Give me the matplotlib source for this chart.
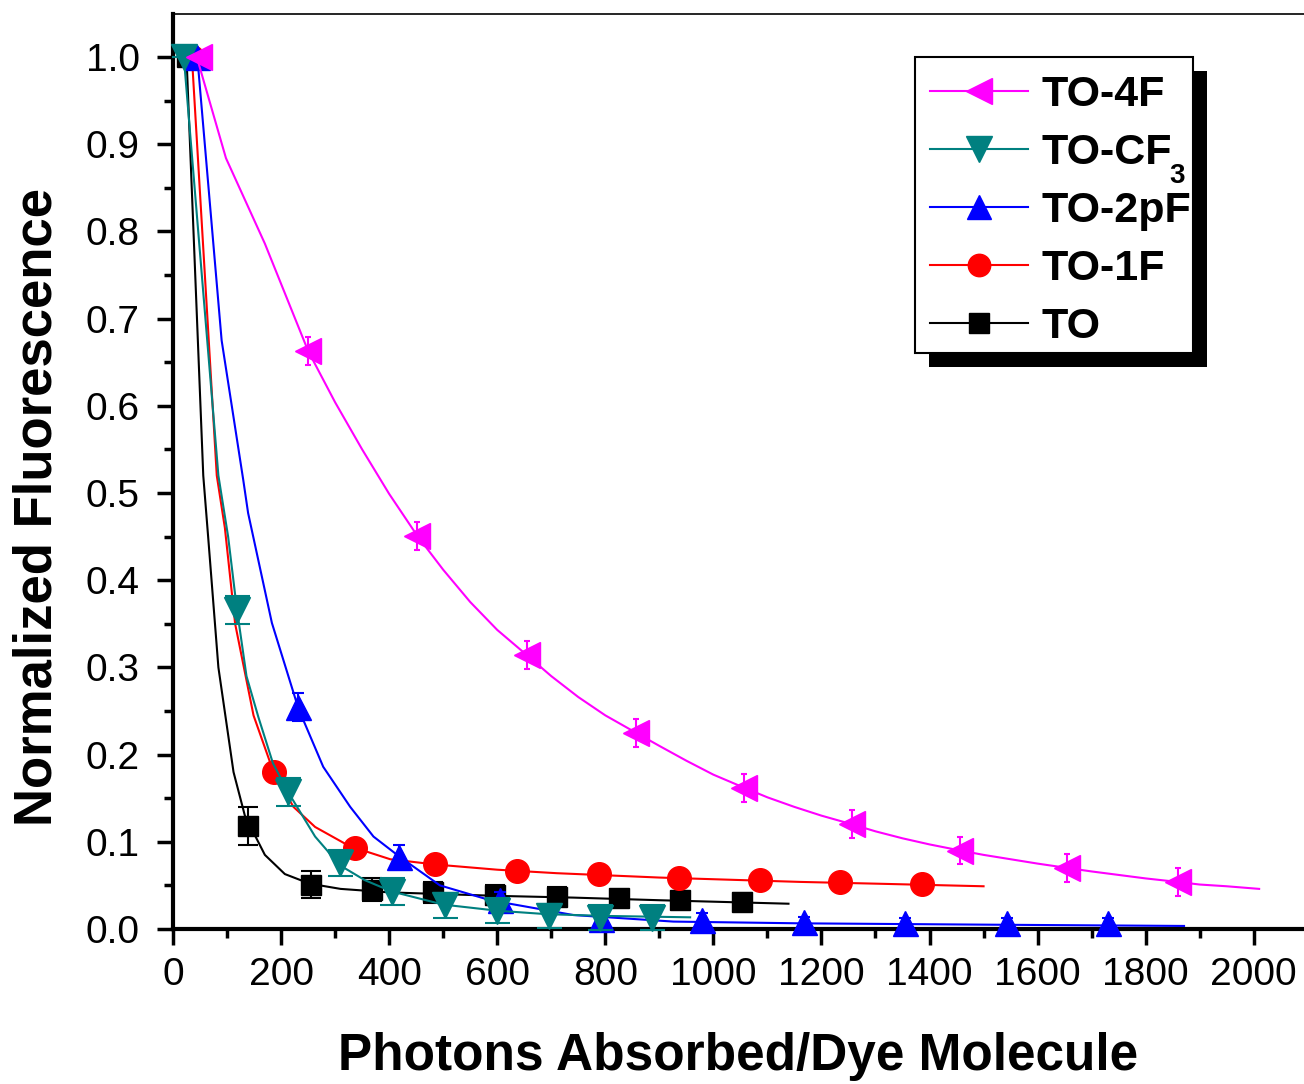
import matplotlib
matplotlib.use('Agg')
import matplotlib.pyplot as plt
from matplotlib.patches import Rectangle
from matplotlib.lines import Line2D
from matplotlib.ticker import MultipleLocator, FormatStrFormatter
from matplotlib.transforms import IdentityTransform

plt.rcParams['font.family'] = ['Liberation Sans', 'DejaVu Sans']

# ---------------- data ----------------
# TO (black squares)
to_x = [25, 139, 255, 369, 482, 596, 710, 825, 939, 1053]
to_y = [1.0, 0.118, 0.051, 0.045, 0.042, 0.039, 0.037, 0.035, 0.033, 0.031]
to_err = [0.0, 0.022, 0.016, 0.013, 0.012, 0.012, 0.011, 0.010, 0.010, 0.010]
to_fit_x = [25, 56, 65, 84, 112, 133, 170, 207, 253, 310, 400, 500, 600, 741, 900, 1139]
to_fit_y = [1.0, 0.52, 0.45, 0.30, 0.18, 0.13, 0.085, 0.063, 0.052, 0.046, 0.042, 0.040, 0.038, 0.036, 0.033, 0.029]

# TO-1F (red circles)
f1_x = [35, 186, 337, 485, 636, 788, 936, 1087, 1235, 1386]
f1_y = [1.0, 0.180, 0.093, 0.075, 0.067, 0.063, 0.059, 0.056, 0.054, 0.052]
f1_err = [0.0, 0.008, 0.006, 0.005, 0.005, 0.005, 0.005, 0.005, 0.005, 0.005]
f1_fit_x = [35, 81, 96, 115, 149, 186, 223, 263, 318, 337, 402, 485, 600, 710, 900, 1161, 1300, 1500]
f1_fit_y = [1.0, 0.52, 0.46, 0.35, 0.245, 0.18, 0.14, 0.117, 0.098, 0.093, 0.080, 0.074, 0.068, 0.064, 0.059, 0.054, 0.052, 0.049]

# TO-2pF (blue up triangles)
pf_x = [45, 232, 419, 605, 792, 979, 1167, 1355, 1543, 1730]
pf_y = [1.0, 0.255, 0.083, 0.033, 0.012, 0.010, 0.008, 0.007, 0.007, 0.007]
pf_err = [0.0, 0.016, 0.013, 0.010, 0.008, 0.008, 0.006, 0.006, 0.006, 0.006]
pf_fit_x = [45, 90, 130, 139, 183, 232, 278, 328, 371, 419, 494, 587, 741, 926, 1161, 1500, 1871]
pf_fit_y = [1.0, 0.675, 0.515, 0.477, 0.351, 0.253, 0.186, 0.140, 0.106, 0.083, 0.050, 0.033, 0.016, 0.0085, 0.0065, 0.005, 0.0035]

# TO-CF3 (teal down triangles)
cf_x = [20, 118, 213, 309, 405, 504, 599, 695, 791, 886]
cf_y = [1.0, 0.366, 0.157, 0.076, 0.043, 0.027, 0.021, 0.015, 0.013, 0.013]
cf_err = [0.0, 0.016, 0.016, 0.015, 0.015, 0.014, 0.014, 0.014, 0.014, 0.014]
cf_fit_x = [20, 84, 102, 118, 136, 158, 185, 213, 263, 309, 355, 405, 500, 600, 692, 800, 957]
cf_fit_y = [1.0, 0.52, 0.45, 0.368, 0.29, 0.243, 0.19, 0.157, 0.106, 0.073, 0.056, 0.043, 0.028, 0.021, 0.017, 0.015, 0.0134]

# TO-4F (magenta left triangles)
f4_x = [48, 250, 452, 655, 857, 1057, 1257, 1457, 1655, 1859]
f4_y = [1.0, 0.663, 0.451, 0.314, 0.225, 0.162, 0.120, 0.090, 0.070, 0.054]
f4_err = [0.0, 0.016, 0.016, 0.016, 0.016, 0.016, 0.016, 0.016, 0.016, 0.016]
f4_fit_x = [44, 98, 170, 250, 300, 350, 400, 452, 500, 550, 600, 655, 700, 750, 800, 857,
            900, 950, 1000, 1057, 1100, 1150, 1200, 1257, 1300, 1350, 1400, 1457, 1500,
            1550, 1600, 1655, 1700, 1750, 1800, 1859, 1900, 1950, 2010]
f4_fit_y = [1.0, 0.884, 0.786, 0.663, 0.604, 0.550, 0.499, 0.451, 0.412, 0.375, 0.343, 0.314,
            0.290, 0.266, 0.245, 0.225, 0.210, 0.193, 0.177, 0.162, 0.151, 0.140, 0.130,
            0.120, 0.112, 0.104, 0.097, 0.090, 0.085, 0.080, 0.075, 0.070, 0.066, 0.062,
            0.058, 0.054, 0.051, 0.049, 0.046]

labels = ['TO', 'TO-1F', 'TO-2pF', 'TO-CF', 'TO-4F']
cf_subscript = '3'
colors = ['black', '#ff0000', '#0000ff', '#008080', '#ff00ff']
markers = ['s', 'o', '^', 'v', '<']
msizes = [14.5, 17, 18, 19, 19]
capsizes = [7, 5, 4, 9, 2]

x_ticks = [0, 200, 400, 600, 800, 1000, 1200, 1400, 1600, 1800, 2000]
y_ticks = [0.0, 0.1, 0.2, 0.3, 0.4, 0.5, 0.6, 0.7, 0.8, 0.9, 1.0]

series = [
    (to_x, to_y, to_err, to_fit_x, to_fit_y),
    (f1_x, f1_y, f1_err, f1_fit_x, f1_fit_y),
    (pf_x, pf_y, pf_err, pf_fit_x, pf_fit_y),
    (cf_x, cf_y, cf_err, cf_fit_x, cf_fit_y),
    (f4_x, f4_y, f4_err, f4_fit_x, f4_fit_y),
]

W, H = 1304, 1084
fig = plt.figure(figsize=(W / 100, H / 100), dpi=100)
ax = fig.add_axes([173 / W, 1 - 929 / H, 1 - 173 / W, (929 - 14) / H])

handles = []
for i, (x, y, e, fx, fy) in enumerate(series):
    z = 2 + i
    ax.plot(fx, fy, color=colors[i], lw=1.5, zorder=z)
    ax.errorbar(x, y, yerr=e, fmt=markers[i], color=colors[i], ms=msizes[i],
                mec=colors[i], capsize=capsizes[i], elinewidth=1.5, capthick=1.5,
                ls='none', zorder=z + 0.5, clip_on=False)
    handles.append(Line2D([], [], color=colors[i], lw=1.5, marker=markers[i],
                          ms=msizes[i] * 0.95, mec=colors[i]))

ax.set_xlim(0, 2093)
ax.set_ylim(0, 1.0493)
ax.set_xticks(x_ticks)
ax.set_yticks(y_ticks)
ax.yaxis.set_major_formatter(FormatStrFormatter('%.1f'))
ax.xaxis.set_minor_locator(MultipleLocator(100))
ax.yaxis.set_minor_locator(MultipleLocator(0.05))
ax.tick_params(axis='both', which='major', direction='out', length=11.5, width=2.5,
               labelsize=28, pad=9)
ax.tick_params(axis='y', which='major', pad=12.5)
ax.tick_params(axis='both', which='minor', direction='out', length=6.5, width=2.5)
ax.tick_params(top=False, right=False, which='both')

for s in ['left', 'bottom']:
    ax.spines[s].set_linewidth(3)
ax.spines['top'].set_linewidth(1.2)
ax.spines['right'].set_visible(False)

ax.set_xlabel('Photons Absorbed/Dye Molecule', fontsize=37, fontweight='bold', labelpad=28)
ax.set_ylabel('Normalized Fluorescence', fontsize=38, fontweight='bold')
ax.yaxis.set_label_coords(-0.098, 0.461)

leg = ax.legend(handles[::-1], labels[::-1], loc='upper left',
                bbox_to_anchor=(930 / W, 1 - 75 / H), bbox_transform=fig.transFigure,
                borderaxespad=0, frameon=False,
                prop={'weight': 'bold', 'size': 31}, handlelength=2.28,
                handletextpad=0.3, labelspacing=0.42, borderpad=0)
leg.set_zorder(20)

# legend frame and its offset black shadow (pixel geometry of the box)
box_l, box_t, box_r, box_b = 915, 57, 1193, 353
shadow = Rectangle((box_l + 14, H - box_b - 14), box_r - box_l, box_b - box_t,
                   transform=IdentityTransform(), facecolor='black', edgecolor='none',
                   zorder=19, clip_on=False)
frame = Rectangle((box_l, H - box_b), box_r - box_l, box_b - box_t,
                  transform=IdentityTransform(), facecolor='white', edgecolor='black',
                  lw=1.5, zorder=19.5, clip_on=False)
ax.add_artist(shadow)
ax.add_artist(frame)

fig.canvas.draw()
t_cf = leg.get_texts()[1]
bb = t_cf.get_window_extent()
baseline = bb.y0 + 0.212 * 31 * 100 / 72
ax.text(bb.x1 - 2, baseline - 19, cf_subscript, transform=IdentityTransform(),
        fontsize=20, fontweight='bold', ha='left', va='baseline', zorder=21)

fig.savefig('out.png', dpi=100)
